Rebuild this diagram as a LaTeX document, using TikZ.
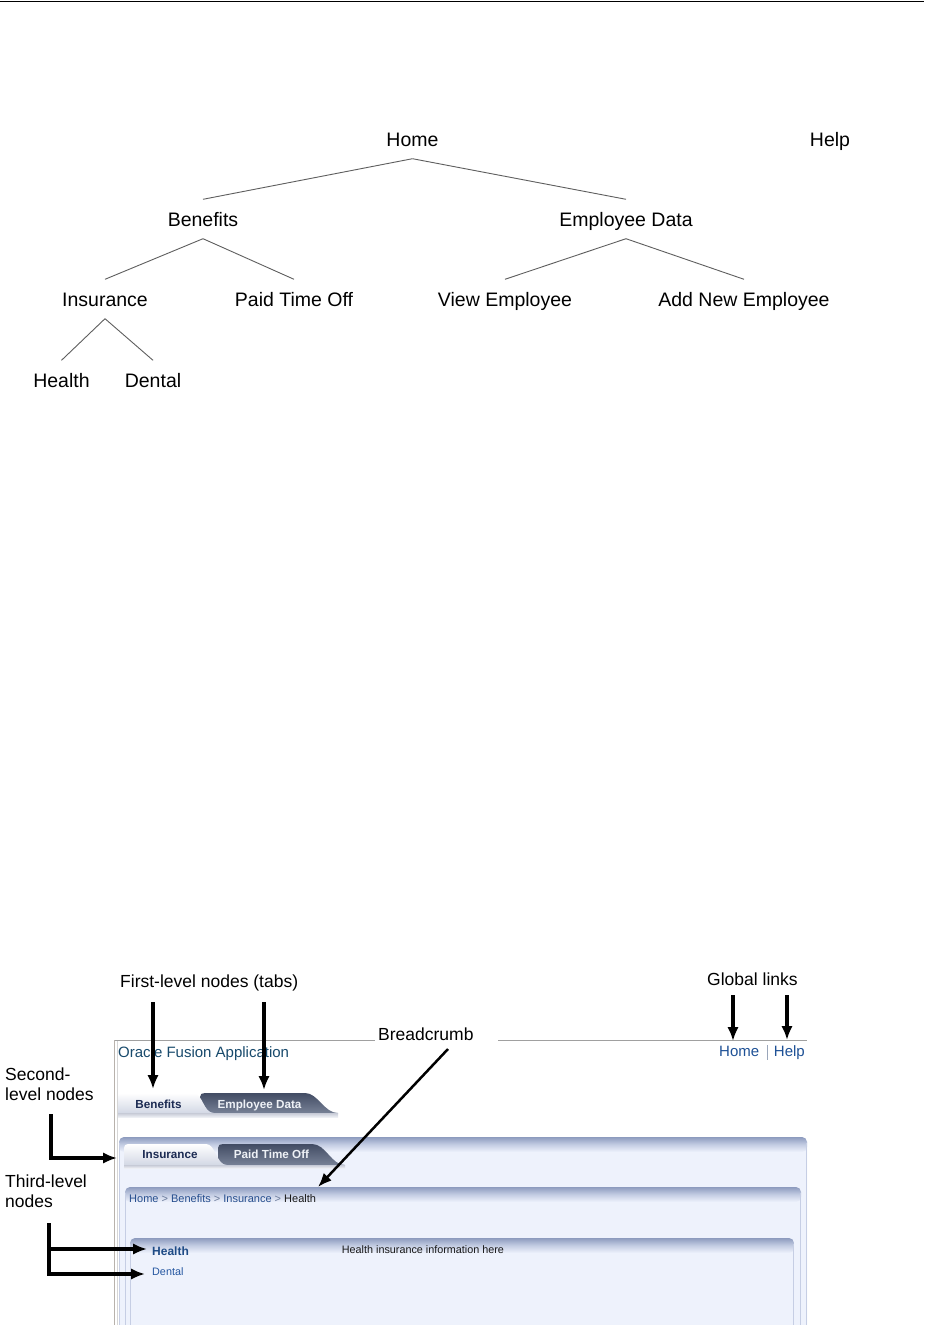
\documentclass[tikz,border=0pt]{standalone}
\usepackage{fontspec}
\setmainfont{Liberation Sans}
\usetikzlibrary{arrows.meta}
\definecolor{treeline}{HTML}{5E5E5E}
\definecolor{oracle}{HTML}{184A6C}
\definecolor{glink}{HTML}{1E5196}
\definecolor{gsep}{HTML}{9AA6BA}
\definecolor{tabtxt}{HTML}{1B2A52}
\definecolor{tabwhite}{HTML}{EEF1F6}
\definecolor{darktop}{HTML}{424C64}
\definecolor{darkbot}{HTML}{778196}
\definecolor{lightbot}{HTML}{D3D8E5}
\definecolor{barTop}{HTML}{C6CAD6}
\definecolor{barBot}{HTML}{EDEFF4}
\definecolor{pbody}{HTML}{EEF2FC}
\definecolor{phead}{HTML}{8D9BBE}
\definecolor{pmid}{HTML}{C4CDE3}
\definecolor{pborder}{HTML}{C6CEE4}
\definecolor{crumb}{HTML}{264E8E}
\definecolor{crumbsep}{HTML}{6A7A9A}
\definecolor{hlink}{HTML}{1E4B86}
\definecolor{dlink}{HTML}{2456A0}
\definecolor{fr1}{HTML}{B8B2AC}
\definecolor{fr2}{HTML}{D6D6D6}
\definecolor{frtop}{HTML}{A0A0A0}
\newcommand\mypanel[3]{%
  \fill[pbody, rounded corners=5pt] (#1,1345) -- (#1,#3) -- (#2,#3) -- (#2,1345) -- cycle;
  \shade[top color=phead, bottom color=pbody, middle color=pmid, rounded corners=5pt]
     (#1,#3+15) -- (#1,#3) -- (#2,#3) -- (#2,#3+15) -- cycle;
  \draw[pborder, line width=0.9pt] (#1+0.5,#3+6) -- (#1+0.5,1335);
  \draw[pborder, line width=0.9pt] (#2-0.5,#3+6) -- (#2-0.5,1335);
}
\begin{document}
\begin{tikzpicture}[x=1pt,y=-1pt,
  tn/.style={font=\fontsize{19.5}{23}\selectfont, inner sep=0pt, text height=14pt, text depth=0pt, minimum height=39pt},
  te/.style={draw=treeline, line width=0.9pt},
  lab/.style={font=\fontsize{17.5}{20}\selectfont, inner sep=0pt, align=left, anchor=base west},
  tabl/.style={font=\bfseries\fontsize{11.7}{14}\selectfont, inner sep=0pt, anchor=base},
  small/.style={font=\fontsize{10.8}{13}\selectfont, inner sep=0pt, anchor=base west},
  arr/.style={line width=3.2pt, -{Latex[length=14pt,width=11.5pt]}},
  arrthin/.style={line width=2.5pt, -{Latex[length=14pt,width=11pt]}}
]
\useasboundingbox (0,0) rectangle (924,1325);
\clip (0,0) rectangle (924,1325);
\fill[white] (0,0) rectangle (924,1325);

% top rule
\draw[line width=1.4pt] (0,1.4) -- (924,1.4);

% ---------- tree ----------
\node[tn] (home) at (412.5,139) {Home};
\node[tn] (help) at (830,139) {Help};
\node[tn] (ben) at (203,219) {Benefits};
\node[tn] (emp) at (626,219) {Employee Data};
\node[tn] (ins) at (105,299) {Insurance};
\node[tn] (pto) at (294,299) {Paid Time Off};
\node[tn] (view) at (505,299) {View Employee};
\node[tn] (add) at (744,299) {Add New Employee};
\node[tn] (hea) at (61.5,380) {Health};
\node[tn] (den) at (153,380) {Dental};
\draw[te] (home.south) -- (ben.north);
\draw[te] (home.south) -- (emp.north);
\draw[te] (ben.south) -- (ins.north);
\draw[te] (ben.south) -- (pto.north);
\draw[te] (emp.south) -- (view.north);
\draw[te] (emp.south) -- (add.north);
\draw[te] (ins.south) -- (hea.north);
\draw[te] (ins.south) -- (den.north);

% ---------- screenshot frame ----------
\draw[frtop, line width=1pt] (115,1040.5) -- (375,1040.5);
\draw[frtop, line width=1pt] (498,1040.5) -- (807,1040.5);
\draw[fr1, line width=1.3pt] (114.5,1040) -- (114.5,1330);
\draw[fr2, line width=0.9pt] (117.3,1041) -- (117.3,1330);

\node[font=\fontsize{15}{18}\selectfont, text=oracle, inner sep=0pt, anchor=base west] (oracle) at (118,1057.3) {Oracle Fusion Application};
\node[font=\fontsize{15}{18}\selectfont, text=glink, inner sep=0pt, anchor=base west] (ghome) at (719,1056.7) {Home};
\node[font=\fontsize{15}{18}\selectfont, text=glink, inner sep=0pt, anchor=base east] (ghelp) at (805,1056.7) {Help};
\draw[gsep, line width=0.8pt] (767,1045) -- (767,1060);

% first-level tabs
\shade[top color=darktop, bottom color=darkbot] (200,1113) -- (200,1097) .. controls (200,1094) and (202,1093) .. (205,1093) -- (305,1093) .. controls (318,1093) and (324,1113) .. (338,1113) -- cycle;
\shade[top color=white, bottom color=lightbot] (118,1113) -- (118,1097) .. controls (118,1094.5) and (119.5,1093) .. (122,1093) -- (193,1093) .. controls (203,1093) and (203,1113) .. (214,1113) -- cycle;
\shade[top color=barTop, bottom color=barBot] (118,1113) rectangle (338,1117);
\node[tabl, text=tabtxt] (tben) at (158.5,1108.3) {Benefits};
\node[tabl, text=tabwhite] (temp) at (259.5,1108.3) {Employee Data};

% second panel with second-level tabs
\mypanel{119}{807}{1137}
\shade[top color=darktop, bottom color=darkbot] (218,1165) -- (218,1148) .. controls (218,1145) and (220,1144) .. (223,1144) -- (312,1144) .. controls (326,1144) and (331,1165) .. (345,1165) -- cycle;
\shade[top color=white, bottom color=lightbot] (124,1165) -- (124,1148) .. controls (124,1145.5) and (125.5,1144) .. (128,1144) -- (206,1144) .. controls (216,1144) and (216,1165) .. (227,1165) -- cycle;
\shade[top color=barTop, bottom color=barBot] (124,1165) rectangle (345,1168);
\node[tabl, text=tabtxt] (tins) at (170,1158.3) {Insurance};
\node[tabl, text=tabwhite] (tpto) at (271.5,1158.3) {Paid Time Off};

% breadcrumb panel
\mypanel{125}{801}{1187}
\node[font=\fontsize{11}{13}\selectfont, inner sep=0pt, anchor=base west] (crumbs) at (129,1202.7)
  {\textcolor{crumb}{Home} \textcolor{crumbsep}{>} \textcolor{crumb}{Benefits} \textcolor{crumbsep}{>} \textcolor{crumb}{Insurance} \textcolor{crumbsep}{>} \textcolor{black!90}{Health}};

% content panel
\mypanel{130}{794}{1238}
\node[font=\bfseries\fontsize{12}{14}\selectfont, text=hlink, inner sep=0pt, anchor=base west] (nhealth) at (152,1255.7) {Health};
\node[small, text=dlink] (ndental) at (152,1275) {Dental};
\node[small, text=black!90] (info) at (341.7,1253.3) {Health insurance information here};

% ---------- callout labels ----------
\node[lab] (lfirst) at (120,987.3) {First-level nodes (tabs)};
\node[lab] (lglobal) at (707,985) {Global links};
\node[lab] (lcrumb) at (378,1040.7) {Breadcrumb};
\node[lab] (lsecond) at (5,1100.7) {Second-\\level nodes};
\node[lab] (lthird) at (5,1207.3) {Third-level\\nodes};

% arrow anchor points
\coordinate (a1s) at (153,1002);   \coordinate (a1e) at (153,1089);
\coordinate (a2s) at (264,1002);   \coordinate (a2e) at (264,1090);
\coordinate (a3s) at (733,995);    \coordinate (a3e) at (733,1041);
\coordinate (a4s) at (787,995);    \coordinate (a4e) at (787,1040);
\coordinate (a5s) at (448,1049);   \coordinate (a5e) at (318,1187);
\coordinate (a6s) at (51,1114);    \coordinate (a6e) at (117,1158);
\coordinate (a7s) at (49,1223);    \coordinate (a7e) at (145,1274);
\coordinate (a8s) at (49,1249);    \coordinate (a8e) at (147,1249);

\draw[arr] (a1s) -- (a1e);
\draw[arr] (a2s) -- (a2e);
\draw[arr] (a3s) -- (a3e);
\draw[arr] (a4s) -- (a4e);
\draw[arrthin] (a5s) -- (a5e);
\draw[arr] (a6s) |- (a6e);
\draw[arr] (a7s) |- (a7e);
\draw[arr] (a8s) -- (a8e);
\end{tikzpicture}
\end{document}
